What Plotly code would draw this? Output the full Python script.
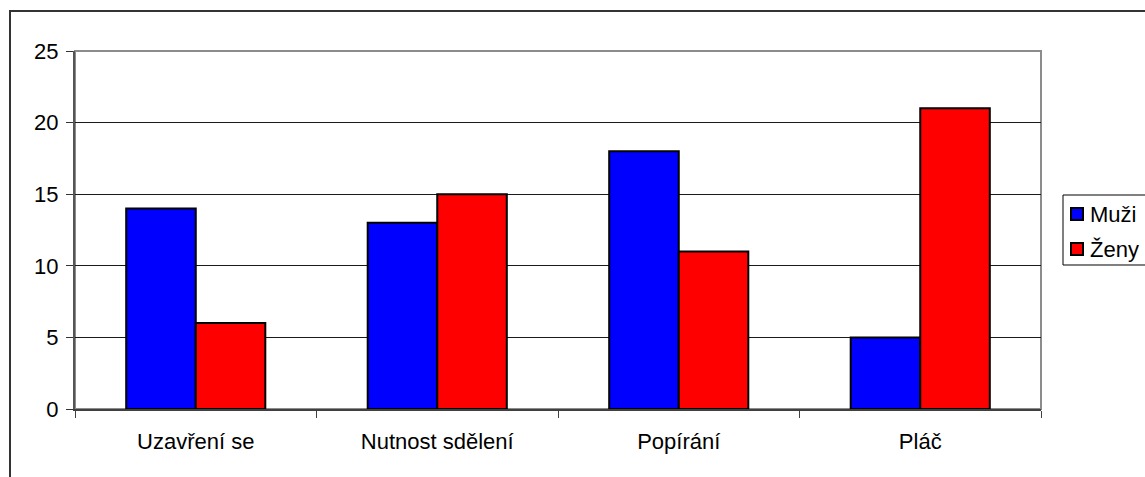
import plotly.graph_objects as go

# Reactions to bad news, by gender
categories = ["Uzavření se", "Nutnost sdělení", "Popírání", "Pláč"]
muzi = [14, 13, 18, 5]
zeny = [6, 15, 11, 21]
y_ticks = [0, 5, 10, 15, 20, 25]
series_names = ["Muži", "Ženy"]
series_colors = ["#0000FF", "#FF0000"]

W, H = 1145, 477
ML, MR, MT, MB = 75, 104, 51, 68
PW, PH = W - ML - MR, H - MT - MB


def px_x(px):
    return (px - ML) / PW


def px_y(py):
    return (H - MB - py) / PH


FONT = "Liberation Sans, Arial, sans-serif"

fig = go.Figure()
for name, vals, col in zip(series_names, [muzi, zeny], series_colors):
    fig.add_trace(go.Bar(
        x=categories, y=vals, name=name,
        marker=dict(color=col, line=dict(color="#000000", width=2)),
    ))

shapes = [
    # plot-area frame
    dict(type="rect", xref="paper", yref="paper", x0=0, x1=1, y0=0, y1=1,
         line=dict(color="#8c8c8c", width=2), layer="below"),
    # outer chart frame
    dict(type="rect", xref="paper", yref="paper",
         x0=px_x(10), x1=px_x(1152), y0=px_y(11), y1=px_y(485),
         line=dict(color="#333333", width=2), layer="below"),
    # legend box
    dict(type="rect", xref="paper", yref="paper",
         x0=px_x(1063), x1=px_x(1152), y0=px_y(195), y1=px_y(265),
         line=dict(color="#000000", width=1), fillcolor="white", layer="above"),
]

annotations = []
# legend entries: swatch + label
for i, (name, col) in enumerate(zip(series_names, series_colors)):
    cy = 214 + i * 35
    shapes.append(dict(
        type="rect", xref="paper", yref="paper",
        x0=px_x(1071), x1=px_x(1083), y0=px_y(cy - 6), y1=px_y(cy + 6),
        fillcolor=col, line=dict(color="#000000", width=2), layer="above",
    ))
    annotations.append(dict(
        xref="paper", yref="paper", x=px_x(1088), y=px_y(cy),
        xanchor="left", yanchor="middle", text=name, showarrow=False,
        font=dict(family=FONT, size=22, color="#000000"),
    ))

fig.update_layout(
    width=W, height=H,
    margin=dict(l=ML, r=MR, t=MT, b=MB, autoexpand=False),
    paper_bgcolor="white", plot_bgcolor="white",
    font=dict(family=FONT, size=22, color="#000000"),
    barmode="group", bargap=0.424, bargroupgap=0,
    showlegend=False,
    shapes=shapes,
    annotations=annotations,
    xaxis=dict(
        type="category", showgrid=False, showline=True,
        linecolor="#404040", linewidth=2,
        ticks="outside", ticklen=7, tickcolor="#404040", tickwidth=1,
        tickson="boundaries", ticklabelstandoff=12,
        tickfont=dict(family=FONT, size=22, color="#000000"),
    ),
    yaxis=dict(
        range=[0, 25], tickvals=y_ticks, ticktext=[str(v) for v in y_ticks],
        showgrid=True, gridcolor="#1a1a1a", gridwidth=1,
        showline=True, linecolor="#555555", linewidth=2,
        ticks="outside", ticklen=7, tickcolor="#333333", tickwidth=1,
        zeroline=False, ticklabelstandoff=3,
        tickfont=dict(family=FONT, size=22, color="#000000"),
    ),
)

fig.write_html("out.html")
